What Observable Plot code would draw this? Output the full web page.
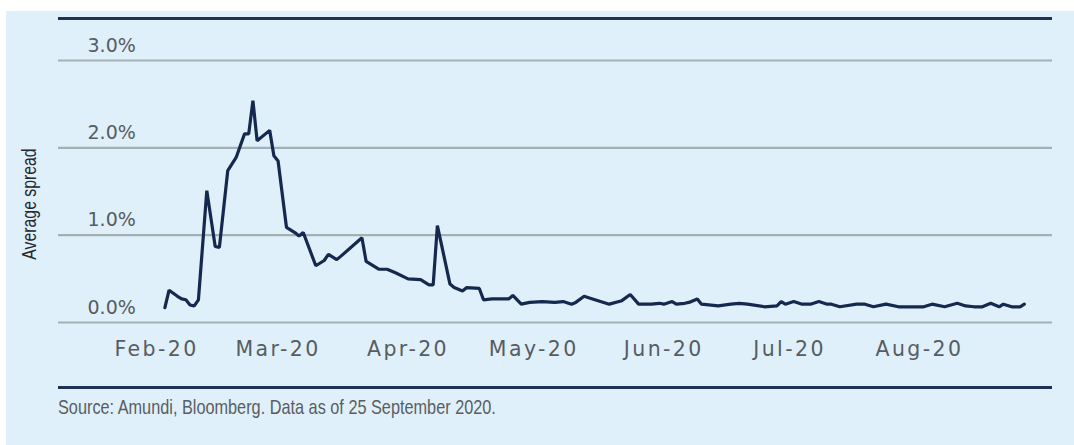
<!DOCTYPE html>
<html>
<head>
<meta charset="utf-8">
<script src="https://cdn.jsdelivr.net/npm/d3@7"></script>
<script src="https://cdn.jsdelivr.net/npm/@observablehq/plot@0.6"></script>
<style>
  html, body { margin: 0; padding: 0; background: #ffffff; }
  body { width: 1074px; height: 445px; position: relative; overflow: hidden; }
  #panel { position: absolute; left: 6px; top: 11px; width: 1068px; height: 434px; background: #dff0fb; }
  #chart { position: absolute; left: 0; top: 0; }
  .rule { position: absolute; left: 58px; width: 994px; height: 3px; background: #1f3157; }
  .narrow { font-family: "Liberation Sans", Arial, sans-serif; white-space: nowrap; position: absolute; line-height: 24px; }
  #source { left: 58px; top: 395px; font-size: 21px; color: #5a5e62; transform-origin: 0 50%; transform: scaleX(0.775); }
  #ylabel { left: 28.5px; top: 204px; font-size: 20px; color: #24272b; transform: translate(-50%, -50%) rotate(-90deg) scaleX(0.79); }
</style>
</head>
<body>
<div id="panel"></div>
<div class="rule" style="top:17px"></div>
<div id="chart"></div>
<div class="rule" style="top:386px"></div>
<div id="ylabel" class="narrow"></div>
<div id="source" class="narrow"></div>
<script>
// Average spread (%), 2020
const dates = [
  "2020-02-03","2020-02-04","2020-02-06","2020-02-07","2020-02-08","2020-02-09","2020-02-10","2020-02-11",
  "2020-02-13","2020-02-15","2020-02-16","2020-02-18","2020-02-20","2020-02-22","2020-02-23","2020-02-24",
  "2020-02-25","2020-02-28","2020-02-29","2020-03-01","2020-03-03","2020-03-05","2020-03-06","2020-03-07",
  "2020-03-10","2020-03-12","2020-03-13","2020-03-15","2020-03-16","2020-03-21","2020-03-22","2020-03-25",
  "2020-03-27","2020-03-29","2020-04-01","2020-04-04","2020-04-06","2020-04-07","2020-04-08","2020-04-11",
  "2020-04-12","2020-04-14","2020-04-15","2020-04-18","2020-04-19","2020-04-21","2020-04-25","2020-04-26",
  "2020-04-28","2020-04-30","2020-05-03","2020-05-06","2020-05-08","2020-05-10","2020-05-11","2020-05-13",
  "2020-05-15","2020-05-19","2020-05-22","2020-05-24","2020-05-26","2020-05-29","2020-05-31","2020-06-01",
  "2020-06-03","2020-06-04","2020-06-06","2020-06-07","2020-06-09","2020-06-10","2020-06-14","2020-06-17",
  "2020-06-19","2020-06-21","2020-06-25","2020-06-28","2020-06-29","2020-06-30","2020-07-02","2020-07-04",
  "2020-07-06","2020-07-08","2020-07-10","2020-07-11","2020-07-13","2020-07-17","2020-07-19","2020-07-21",
  "2020-07-24","2020-07-27","2020-07-30","2020-08-02","2020-08-04","2020-08-07","2020-08-10","2020-08-12",
  "2020-08-14","2020-08-16","2020-08-18","2020-08-20","2020-08-21","2020-08-23","2020-08-25","2020-08-26"
];
const spread = [
  0.17, 0.37, 0.30, 0.27, 0.26, 0.20, 0.19, 0.26,
  1.51, 0.87, 0.86, 1.74, 1.89, 2.16, 2.16, 2.54,
  2.08, 2.20, 1.91, 1.85, 1.09, 1.03, 0.99, 1.03,
  0.65, 0.71, 0.78, 0.72, 0.76, 0.97, 0.70, 0.61,
  0.61, 0.57, 0.50, 0.49, 0.43, 0.43, 1.11, 0.44,
  0.40, 0.36, 0.40, 0.39, 0.26, 0.27, 0.27, 0.31,
  0.21, 0.23, 0.24, 0.23, 0.24, 0.21, 0.23, 0.30,
  0.27, 0.21, 0.25, 0.32, 0.21, 0.21, 0.22, 0.21,
  0.24, 0.21, 0.22, 0.23, 0.27, 0.21, 0.19, 0.21,
  0.22, 0.21, 0.18, 0.19, 0.24, 0.21, 0.24, 0.21,
  0.21, 0.24, 0.21, 0.21, 0.18, 0.21, 0.21, 0.18,
  0.21, 0.18, 0.18, 0.18, 0.21, 0.18, 0.22, 0.19,
  0.18, 0.18, 0.22, 0.18, 0.21, 0.18, 0.18, 0.21
];
const monthTicks = ["2020-02-01","2020-03-01","2020-04-01","2020-05-01","2020-06-01","2020-07-01","2020-08-01"];
const yTicks = [0, 1, 2, 3];
const yLabel = "Average spread";
const sourceNote = "Source: Amundi, Bloomberg. Data as of 25 September 2020.";

document.getElementById("ylabel").textContent = yLabel;
document.getElementById("source").textContent = sourceNote;

const series = dates.map((d, i) => ({date: new Date(d + "T00:00:00Z"), value: spread[i]}));
const months = monthTicks.map(d => new Date(d + "T00:00:00Z"));
const fmtMonth = d3.utcFormat("%b-%y");

const chart = Plot.plot({
  width: 1074,
  height: 380,
  marginLeft: 58,
  marginRight: 22,
  marginTop: 60,
  marginBottom: 58,
  style: {background: "transparent", overflow: "visible"},
  x: {type: "utc", domain: [months[0], months[months.length - 1]], range: [156, 919], axis: null},
  y: {domain: [0, 3], axis: null},
  marks: [
    Plot.ruleY(yTicks, {stroke: "#a5b0b4", strokeWidth: 2.2}),
    Plot.text(yTicks, {
      y: d => d, text: d => d.toFixed(1) + "%", frameAnchor: "left", dx: 29, dy: -15,
      textAnchor: "start", fontFamily: "DejaVu Sans", fontSize: 19, fill: "#585c60"
    }),
    Plot.text(months, {
      x: d => d, text: d => fmtMonth(d), frameAnchor: "bottom", dy: 33,
      fontFamily: "DejaVu Sans", fontSize: 20.5, fill: "#585c60"
    }),
    Plot.line(series, {x: "date", y: "value", stroke: "#15284e", strokeWidth: 3.2, strokeLinejoin: "miter"})
  ]
});
// the month labels are set in a wider tracking than the value labels
d3.select(chart).selectAll('g[aria-label="text"]').filter((_, i) => i === 1)
  .style("letter-spacing", "2.4px");
document.getElementById("chart").appendChild(chart);
</script>
</body>
</html>
